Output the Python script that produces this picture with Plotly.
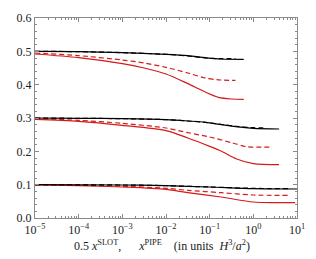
import plotly.graph_objects as go

# log10(x) positions and values for each curve
# group 0.5
top_blk_solid_lx = [-5, -4, -3, -2, -1.5, -1.1, -0.75, -0.22]
top_blk_solid_y = [0.500, 0.499, 0.496, 0.491, 0.487, 0.481, 0.477, 0.476]
top_blk_dash_lx = [-5, -4, -3, -2, -1.5, -1.1, -0.75, -0.41]
top_blk_dash_y = [0.500, 0.499, 0.496, 0.491, 0.486, 0.480, 0.478, 0.478]
top_red_dash_lx = [-5, -4, -3, -2.5, -2, -1.5, -1.1, -0.75, -0.41]
top_red_dash_y = [0.495, 0.487, 0.474, 0.465, 0.452, 0.435, 0.420, 0.414, 0.413]
top_red_solid_lx = [-5, -4, -3, -2.5, -2, -1.5, -1.1, -0.8, -0.5, -0.22]
top_red_solid_y = [0.492, 0.481, 0.463, 0.450, 0.432, 0.403, 0.378, 0.362, 0.357, 0.356]

# group 0.3
mid_blk_solid_lx = [-5, -4, -3, -2, -1.5, -1.1, -0.4, 0, 0.59]
mid_blk_solid_y = [0.300, 0.299, 0.298, 0.295, 0.291, 0.287, 0.274, 0.269, 0.267]
mid_blk_dash_lx = [-5, -4, -3, -2, -1.5, -1.1, -0.4, 0, 0.3]
mid_blk_dash_y = [0.300, 0.299, 0.298, 0.295, 0.291, 0.287, 0.275, 0.271, 0.270]
mid_red_dash_lx = [-5, -4, -3, -2, -1.5, -1, -0.5, -0.15, 0.41]
mid_red_dash_y = [0.298, 0.293, 0.284, 0.270, 0.256, 0.243, 0.226, 0.214, 0.213]
mid_red_solid_lx = [-5, -4, -3, -2, -1.5, -1, -0.74, -0.38, 0, 0.59]
mid_red_solid_y = [0.296, 0.290, 0.278, 0.262, 0.240, 0.215, 0.201, 0.177, 0.163, 0.160]

# group 0.1
low_blk_solid_lx = [-5, -3, -2, -1, 0, 1]
low_blk_solid_y = [0.100, 0.099, 0.097, 0.093, 0.088, 0.087]
low_blk_dash_lx = [-5, -3, -2, -1, 0, 0.8]
low_blk_dash_y = [0.100, 0.099, 0.097, 0.093, 0.089, 0.088]
low_red_dash_lx = [-5, -4, -3, -2, -1.5, -0.74, 0, 0.81]
low_red_dash_y = [0.100, 0.098, 0.095, 0.089, 0.083, 0.076, 0.069, 0.068]
low_red_solid_lx = [-5, -4, -3, -2, -1.5, -0.74, 0, 0.5, 0.96]
low_red_solid_y = [0.099, 0.097, 0.093, 0.086, 0.076, 0.063, 0.048, 0.046, 0.046]

y_ticks = [0.0, 0.1, 0.2, 0.3, 0.4, 0.5, 0.6]
x_tick_exps = [-5, -4, -3, -2, -1, 0, 1]
x_tick_labels = ["10<sup>\u22125</sup>", "10<sup>\u22124</sup>", "10<sup>\u22123</sup>", "10<sup>\u22122</sup>",
                 "10<sup>\u22121</sup>", "10<sup>0</sup>", "10<sup>1</sup>"]
x_title = ("0.5 <i>x</i><sup>SLOT</sup>,      <i>x</i><sup>PIPE</sup>    "
           "(in units  <i>H</i><sup>3</sup>/<i>a</i><sup>2</sup>)")

RED = "#d41a1a"
BLK = "#000000"

curves = [
    (top_red_solid_lx, top_red_solid_y, RED, "solid"),
    (top_red_dash_lx, top_red_dash_y, RED, "dash"),
    (top_blk_dash_lx, top_blk_dash_y, BLK, "dash"),
    (top_blk_solid_lx, top_blk_solid_y, BLK, "solid"),
    (mid_red_solid_lx, mid_red_solid_y, RED, "solid"),
    (mid_red_dash_lx, mid_red_dash_y, RED, "dash"),
    (mid_blk_dash_lx, mid_blk_dash_y, BLK, "dash"),
    (mid_blk_solid_lx, mid_blk_solid_y, BLK, "solid"),
    (low_red_solid_lx, low_red_solid_y, RED, "solid"),
    (low_red_dash_lx, low_red_dash_y, RED, "dash"),
    (low_blk_dash_lx, low_blk_dash_y, BLK, "dash"),
    (low_blk_solid_lx, low_blk_solid_y, BLK, "solid"),
]

fig = go.Figure()
for lx, y, c, d in curves:
    fig.add_trace(go.Scatter(
        x=[10 ** v for v in lx], y=y, mode="lines",
        line=dict(color=c, width=1.2, dash="5px,3px" if d == "dash" else "solid", shape="spline", smoothing=0.8),
        showlegend=False, hoverinfo="skip"))

FONT = "Liberation Serif"
axis_common = dict(showline=True, linecolor="#8a8a8a", linewidth=1, mirror="allticks",
                   ticks="inside", ticklen=4, tickcolor="#8a8a8a", showgrid=False, zeroline=False,
                   tickfont=dict(family=FONT, size=12, color="#222"))

fig.update_xaxes(type="log", range=[-5, 1],
                 tickvals=[10 ** e for e in x_tick_exps], ticktext=x_tick_labels,
                 ticklabelstandoff=1,
                 minor=dict(ticks="inside", ticklen=2, tickcolor="#8a8a8a", dtick="D1", showgrid=False),
                 **axis_common)
fig.update_yaxes(range=[0, 0.6], tickvals=y_ticks, tickformat=".1f", ticklabelstandoff=0,
                 minor=dict(ticks="inside", ticklen=2, tickcolor="#8a8a8a", dtick=0.02, showgrid=False),
                 **axis_common)

fig.add_annotation(text=x_title, xref="paper", yref="paper", x=0.14, y=-0.135,
                   xanchor="left", yanchor="middle", showarrow=False,
                   font=dict(family=FONT, size=12, color="#222"))

fig.update_layout(width=316, height=259, margin=dict(l=35, r=11, t=15, b=41),
                  plot_bgcolor="white", paper_bgcolor="white")
fig.write_html("out.html", config={"displayModeBar": False},
               post_script="document.body.style.margin='0';document.body.style.overflow='hidden';")
